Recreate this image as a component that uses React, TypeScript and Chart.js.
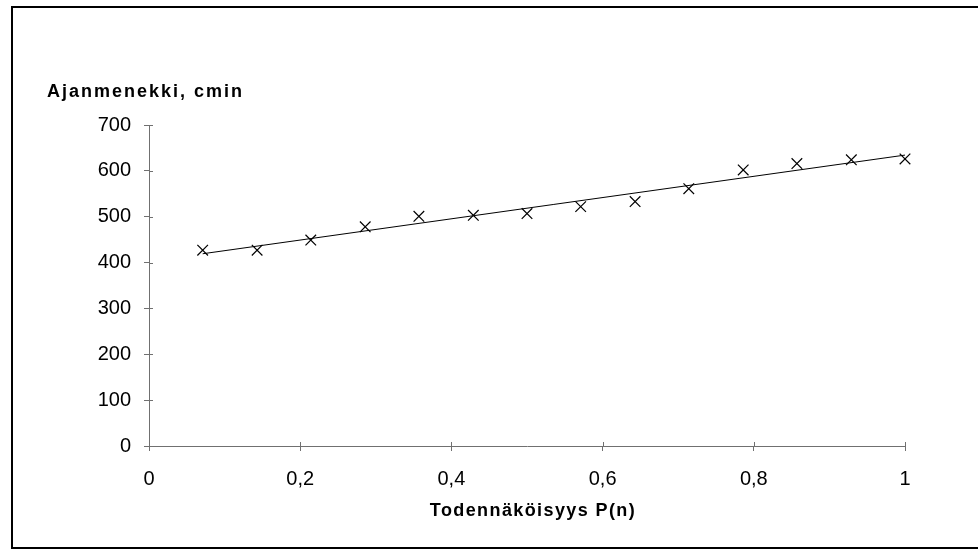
import { useEffect, useRef } from "react";
import { Chart, registerables } from "chart.js";

Chart.register(...registerables);

// Data
const probabilities = [0.071, 0.143, 0.214, 0.286, 0.357, 0.429, 0.5, 0.571, 0.643, 0.714, 0.786, 0.857, 0.929, 1];
const timeConsumption = [427, 427, 449, 478, 501, 503, 507, 522, 533, 561, 602, 616, 624, 626];
const yTicks = [0, 100, 200, 300, 400, 500, 600, 700];
const xTicks = [0, 0.2, 0.4, 0.6, 0.8, 1];
const yTitle = "Ajanmenekki, cmin";
const xTitle = "Todennäköisyys P(n)";

function linearTrend(xs: number[], ys: number[]) {
  const n = xs.length;
  const mx = xs.reduce((a, b) => a + b, 0) / n;
  const my = ys.reduce((a, b) => a + b, 0) / n;
  let sxy = 0;
  let sxx = 0;
  for (let i = 0; i < n; i++) {
    sxy += (xs[i] - mx) * (ys[i] - my);
    sxx += (xs[i] - mx) * (xs[i] - mx);
  }
  const slope = sxy / sxx;
  const intercept = my - slope * mx;
  const x0 = xs[0];
  const x1 = xs[n - 1];
  return [
    { x: x0, y: intercept + slope * x0 },
    { x: x1, y: intercept + slope * x1 },
  ];
}

const AXIS_COLOR = "#707070";
const FONT = "'Liberation Sans', Arial, sans-serif";

const framePlugin = {
  id: "frame",
  beforeDraw(chart: any) {
    const ctx = chart.ctx;
    ctx.save();
    ctx.fillStyle = "#ffffff";
    ctx.fillRect(0, 0, chart.width, chart.height);
    ctx.restore();
  },
  afterDraw(chart: any) {
    const ctx = chart.ctx;
    ctx.save();
    ctx.strokeStyle = "#000000";
    ctx.lineWidth = 2;
    ctx.beginPath();
    ctx.moveTo(11, 7);
    ctx.lineTo(chart.width, 7);
    ctx.moveTo(12, 6);
    ctx.lineTo(12, 549);
    ctx.moveTo(11, 548);
    ctx.lineTo(chart.width, 548);
    ctx.stroke();

    // inner halves of the crossing tick marks
    const xs = chart.scales.x;
    const ys = chart.scales.y;
    const area = chart.chartArea;
    ctx.strokeStyle = AXIS_COLOR;
    ctx.lineWidth = 1;
    ctx.beginPath();
    for (const v of xTicks) {
      const px = Math.round(xs.getPixelForValue(v)) + 0.5;
      ctx.moveTo(px, area.bottom);
      ctx.lineTo(px, area.bottom - 4);
    }
    for (const v of yTicks) {
      const py = Math.round(ys.getPixelForValue(v)) + 0.5;
      ctx.moveTo(area.left, py);
      ctx.lineTo(area.left + 4, py);
    }
    ctx.stroke();

    // axis titles
    ctx.fillStyle = "#000000";
    ctx.font = `bold 18px ${FONT}`;
    ctx.textBaseline = "middle";
    (ctx as any).letterSpacing = "2px";
    ctx.textAlign = "left";
    ctx.fillText(yTitle, 47, 92);
    (ctx as any).letterSpacing = "1.4px";
    ctx.textAlign = "center";
    ctx.fillText(xTitle, (area.left + area.right) / 2 + 6, 511);
    ctx.restore();
  },
};

function formatTick(v: number) {
  return String(Math.round(v * 10) / 10).replace(".", ",");
}

export default function App() {
  const ref = useRef<HTMLCanvasElement | null>(null);

  useEffect(() => {
    if (!ref.current) return;
    const points = probabilities.map((x, i) => ({ x, y: timeConsumption[i] }));
    const trend = linearTrend(probabilities, timeConsumption);
    const chart = new Chart(ref.current, {
      type: "scatter",
      data: {
        datasets: [
          {
            label: "Ajanmenekki",
            data: points,
            pointStyle: "crossRot",
            pointRadius: 7.5,
            pointHoverRadius: 7.5,
            borderColor: "#000000",
            backgroundColor: "#000000",
            borderWidth: 1.2,
            showLine: false,
            clip: false,
          },
          {
            label: "Trendi",
            data: trend,
            showLine: true,
            pointRadius: 0,
            borderColor: "#000000",
            borderWidth: 1,
            fill: false,
            clip: false,
          },
        ],
      },
      options: {
        responsive: false,
        animation: false,
        events: [],
        layout: { padding: { left: 0, top: 125, right: 73, bottom: 58 } },
        plugins: {
          legend: { display: false },
          tooltip: { enabled: false },
          title: { display: false },
        },
        scales: {
          x: {
            type: "linear",
            min: 0,
            max: 1,
            afterFit(scale: any) {
              scale.height = 45;
            },
            afterBuildTicks(scale: any) {
              scale.ticks = xTicks.map((v) => ({ value: v }));
            },
            border: { display: true, color: AXIS_COLOR, width: 1 },
            grid: { drawOnChartArea: false, drawTicks: true, tickLength: 5, color: AXIS_COLOR },
            ticks: {
              color: "#000000",
              font: { family: FONT, size: 20 },
              padding: 16,
              maxRotation: 0,
              callback: (v: any) => formatTick(Number(v)),
            },
          },
          y: {
            type: "linear",
            min: 0,
            max: 700,
            afterFit(scale: any) {
              scale.width = 149;
            },
            afterBuildTicks(scale: any) {
              scale.ticks = yTicks.map((v) => ({ value: v }));
            },
            border: { display: true, color: AXIS_COLOR, width: 1 },
            grid: { drawOnChartArea: false, drawTicks: true, tickLength: 5, color: AXIS_COLOR },
            ticks: {
              color: "#000000",
              font: { family: FONT, size: 20 },
              padding: 13,
              callback: (v: any) => String(v),
            },
          },
        },
      },
      plugins: [framePlugin],
    });
    return () => chart.destroy();
  }, []);

  return (
    <div style={{ position: "absolute", left: 0, top: 0, width: 978, height: 549, background: "#fff" }}>
      <canvas ref={ref} width={978} height={549} style={{ display: "block", width: 978, height: 549 }} />
    </div>
  );
}
